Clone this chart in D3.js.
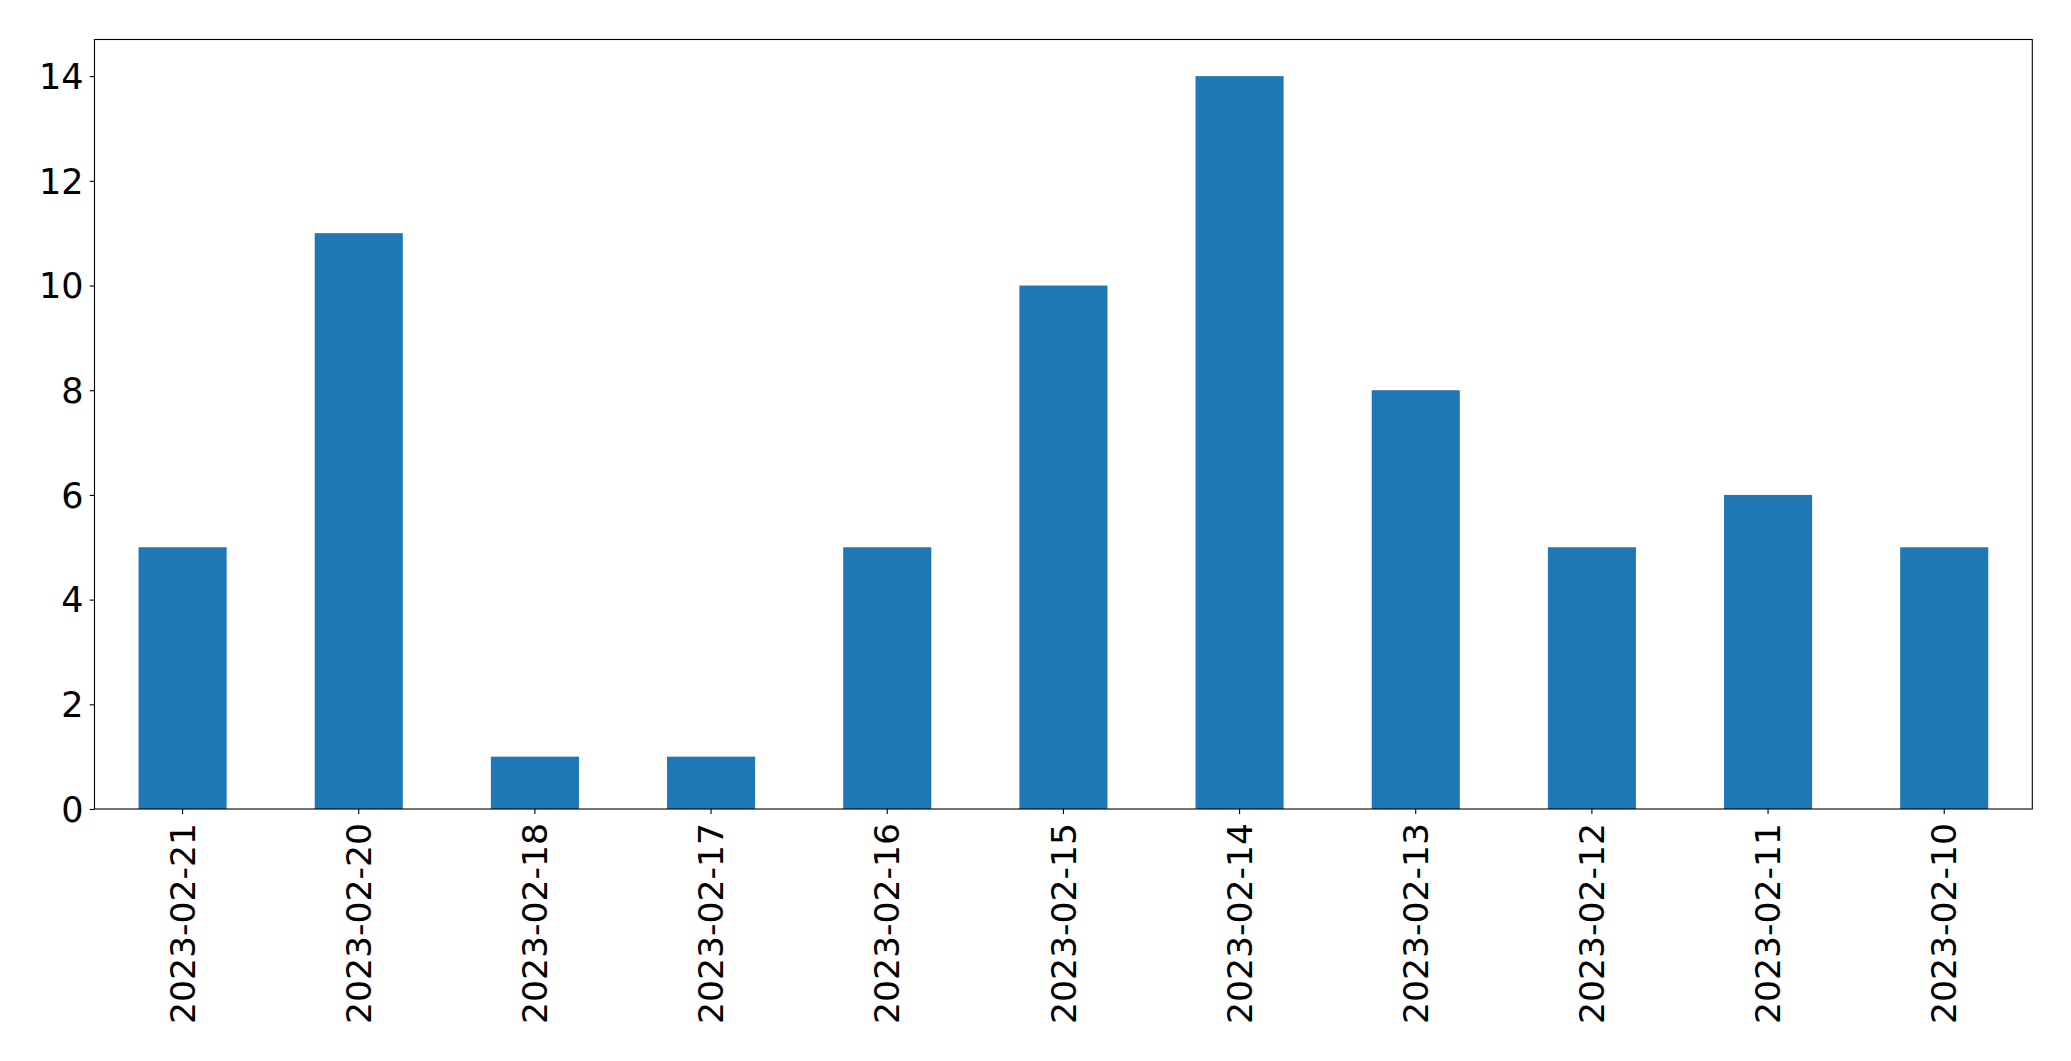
<!DOCTYPE html>
<html>
<head>
<meta charset="utf-8">
<script src="https://cdn.jsdelivr.net/npm/d3@7"></script>
<style>
  html, body { margin: 0; padding: 0; background: #fff; }
  svg { display: block; }
  text { font-family: "DejaVu Sans", sans-serif; fill: #000; }
</style>
</head>
<body>
<svg id="chart" width="2071" height="1061"></svg>
<script>
const categories = ["2023-02-21","2023-02-20","2023-02-18","2023-02-17","2023-02-16","2023-02-15","2023-02-14","2023-02-13","2023-02-12","2023-02-11","2023-02-10"];
const values = [5, 11, 1, 1, 5, 10, 14, 8, 5, 6, 5];
const yTicks = [0, 2, 4, 6, 8, 10, 12, 14];

const W = 2071, H = 1061;
const margin = {left: 94.5, right: W - 2032.3, top: 39.5, bottom: H - 809};
const svg = d3.select("#chart");
const iw = W - margin.left - margin.right;
const ih = H - margin.top - margin.bottom;
const g = svg.append("g").attr("transform", `translate(${margin.left},${margin.top})`);

const x = d3.scaleBand().domain(categories).range([0, iw]).paddingInner(0.5).paddingOuter(0.25);
const y = d3.scaleLinear().domain([0, 14.7]).range([ih, 0]);

g.selectAll("rect.bar").data(values).enter().append("rect")
  .attr("class", "bar")
  .attr("x", (d, i) => x(categories[i]))
  .attr("width", x.bandwidth())
  .attr("y", d => y(d))
  .attr("height", d => y(0) - y(d))
  .attr("fill", "#1f77b4");

const yAxis = g.append("g").call(d3.axisLeft(y).tickValues(yTicks).tickSize(4.9).tickPadding(6).tickFormat(d3.format("d")));
yAxis.select(".domain").remove();
yAxis.selectAll("line").attr("stroke", "#000").attr("stroke-width", 1.1);
yAxis.selectAll("text").attr("font-size", "35px").attr("font-family", "DejaVu Sans").attr("dy", "0.35em");

const xAxis = g.append("g").attr("transform", `translate(0,${ih})`).call(d3.axisBottom(x).tickSize(4.9).tickPadding(0));
xAxis.select(".domain").remove();
xAxis.selectAll("line").attr("stroke", "#000").attr("stroke-width", 1.1);
xAxis.selectAll("text")
  .attr("font-size", "34.6px")
  .attr("font-family", "DejaVu Sans")
  .attr("text-anchor", "end")
  .attr("transform", "translate(0,14) rotate(-90)")
  .attr("x", 0).attr("y", 0)
  .attr("dy", "0.35em");

g.append("rect").attr("x", 0).attr("y", 0).attr("width", iw).attr("height", ih)
  .attr("fill", "none").attr("stroke", "#000").attr("stroke-width", 1.1);
</script>
</body>
</html>
